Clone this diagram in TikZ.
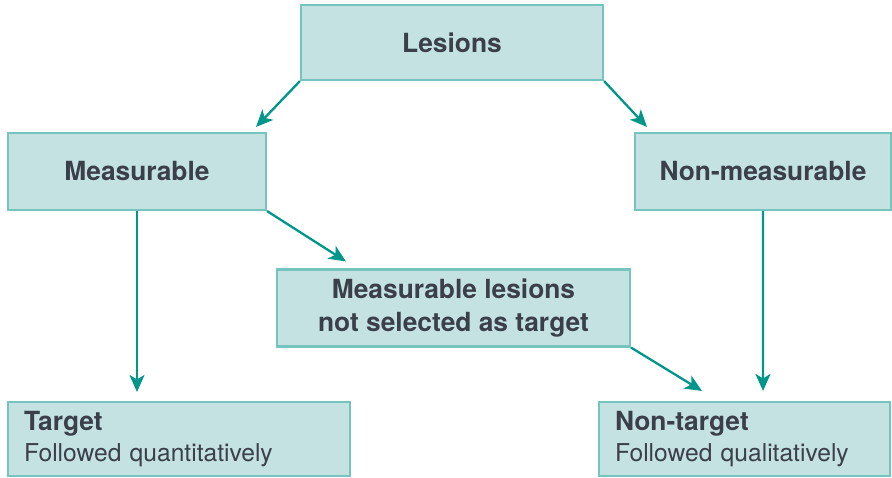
\documentclass[tikz,border=0pt]{standalone}
\usepackage{fontspec}
\setmainfont{TeX Gyre Heros}
\usepackage{xcolor}
\usepackage{tikz}
\usetikzlibrary{arrows.meta}
\usetikzlibrary{positioning}
\definecolor{boxfill}{HTML}{C4E2E2}
\definecolor{boxline}{HTML}{76C4BE}
\definecolor{arrowc}{HTML}{00968A}
\definecolor{textc}{HTML}{3B3F4A}
\tikzset{
    lesbox/.style = {rectangle, draw=boxline, fill=boxfill, line width=1.2pt, align=center, text=textc, font=\fontsize{15}{18.6}\selectfont\bfseries, inner sep=0pt},
    notebox/.style = {rectangle, draw=boxline, fill=boxfill, line width=1.2pt, align=left, text=textc, inner xsep=0.32cm, inner ysep=0pt},
}

\begin{document}
\begin{tikzpicture}[
	x=0.02cm,
	y=-0.02cm,
	font=\fontsize{14}{17.6}\selectfont
]
\tikzset{
    edgea/.style = {-{Stealth[length=0.34cm, width=0.3cm, inset=0.09cm]}, line width=1.3pt, arrowc},
}
\useasboundingbox (0,0) rectangle (892,477);
\node[lesbox, minimum width=6.04cm, minimum height=1.5cm] at (452,42.5) (les) {Lesions};
\node[lesbox, minimum width=5.16cm, minimum height=1.54cm] at (137,171.5) (meas) {Measurable};
\node[lesbox, minimum width=5.12cm, minimum height=1.54cm] at (763,171.5) (nmeas) {Non-measurable};
\node[lesbox, minimum width=7.06cm, minimum height=1.54cm] at (453.5,308) (nsel) {Measurable lesions\\not selected as target};
\node[notebox, text width=6.2cm, minimum height=1.48cm] at (179,439) (tgt) {{\fontsize{15}{17.6}\selectfont\bfseries Target}\\Followed quantitatively};
\node[notebox, text width=5.18cm, minimum height=1.48cm] at (744.5,439) (ntgt) {{\fontsize{15}{17.6}\selectfont\bfseries Non-target}\\Followed qualitatively};
%
\draw[edgea] (les.south west) -- ([shift={(-11,-5)}]meas.north east);
\draw[edgea] (les.south east) -- ([shift={(13,-5)}]nmeas.north west);
%
\draw[edgea] (meas.south) -- ([shift={(-42,-9)}]tgt.north);
\draw[edgea] (meas.south east) -- ([shift={(70,-7)}]nsel.north west);
%
\draw[edgea] (nsel.south east) -- ([shift={(104,-10)}]ntgt.north west);
\draw[edgea] (nmeas.south) -- ([shift={(18.5,-10)}]ntgt.north);
\end{tikzpicture}
\end{document}
